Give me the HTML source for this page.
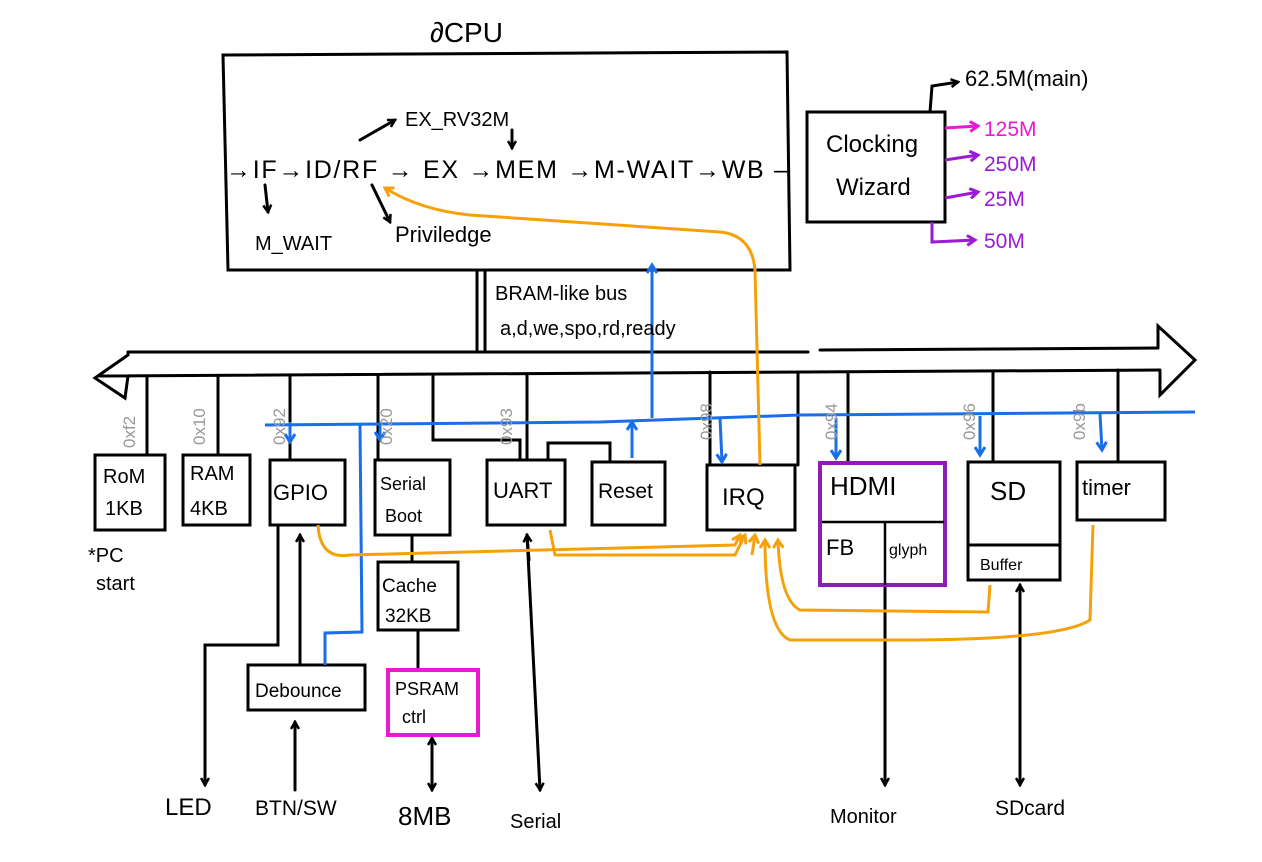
<!DOCTYPE html>
<html><head><meta charset="utf-8"><style>
html,body{margin:0;padding:0;background:#fff;}
svg{display:block;}
text{font-family:"Liberation Sans",sans-serif;fill:#000;}
</style></head><body>
<svg width="1262" height="862" viewBox="0 0 1262 862" xmlns="http://www.w3.org/2000/svg">
<defs>
<marker id="a" markerWidth="10" markerHeight="10" refX="8" refY="5" orient="auto" markerUnits="userSpaceOnUse"><path d="M1,1 L8,5 L1,9" fill="none" stroke="#000" stroke-width="2.5"/></marker>
<marker id="ab" markerWidth="12" markerHeight="12" refX="9" refY="6" orient="auto" markerUnits="userSpaceOnUse"><path d="M1,1 L9,6 L1,11" fill="none" stroke="#1a6fe8" stroke-width="3"/></marker>
<marker id="ao" markerWidth="12" markerHeight="12" refX="9" refY="6" orient="auto" markerUnits="userSpaceOnUse"><path d="M1,1 L9,6 L1,11" fill="none" stroke="#f5a10a" stroke-width="3"/></marker>
<marker id="am" markerWidth="12" markerHeight="12" refX="9" refY="6" orient="auto" markerUnits="userSpaceOnUse"><path d="M1,1 L9,6 L1,11" fill="none" stroke="#e91ad0" stroke-width="3"/></marker>
<marker id="ap" markerWidth="12" markerHeight="12" refX="9" refY="6" orient="auto" markerUnits="userSpaceOnUse"><path d="M1,1 L9,6 L1,11" fill="none" stroke="#9b1ad6" stroke-width="3"/></marker>
</defs>
<g fill="none" stroke="#000" stroke-width="3" stroke-linecap="round">
<path d="M223,55 L787,52 L790,270 L228,270 Z"/>
<rect x="807" y="112" width="138" height="110"/>
<path d="M930,112 L932,86 L958,82" marker-end="url(#a)"/>
<path d="M477,272 L477,350 M485,272 L485,350"/>
<path d="M100,376 L1160,370 M128,352 L808,352 M820,350 L1158,348"/>
<path d="M1158,348 L1158,326 L1195,360 L1160,395 L1160,372"/>
<path d="M128,352 L128,355 L95,378 L125,398 L128,376"/>
<path d="M147,376 L147,455 M218,376 L218,455 M290,375 L290,460 M378,375 L378,460 M433,375 L433,440 L520,440 L520,460 M527,375 L527,460 M548,460 L548,443 L610,443 L610,462 M710,372 L710,465 M798,372 L798,465 M848,372 L848,463 M993,372 L993,462 M1118,370 L1118,462"/>
<rect x="95" y="455" width="70" height="75"/>
<rect x="183" y="455" width="67" height="70"/>
<rect x="270" y="460" width="75" height="65"/>
<rect x="375" y="460" width="75" height="75"/>
<rect x="487" y="460" width="78" height="65"/>
<rect x="592" y="462" width="73" height="63"/>
<rect x="707" y="465" width="88" height="65"/>
<rect x="968" y="462" width="92" height="118"/>
<path d="M968,545 L1060,545"/>
<rect x="1077" y="462" width="88" height="58"/>
<rect x="378" y="562" width="80" height="68"/>
<rect x="248" y="665" width="117" height="45"/>
<path d="M412,535 L412,562 M418,630 L418,670"/>
<path d="M278,525 L278,645 L205,645 L205,785" marker-end="url(#a)"/>
<path d="M300,665 L300,535" marker-end="url(#a)"/>
<path d="M295,790 L295,722" marker-end="url(#a)"/>
<path d="M432,740 L432,790" marker-end="url(#a)"/><path d="M432,745 L432,738" marker-end="url(#a)"/>
<path d="M527,535 L540,790" marker-end="url(#a)"/><path d="M529,560 L527,535" marker-end="url(#a)"/>
<path d="M885,585 L885,785" marker-end="url(#a)"/>
<path d="M1020,780 L1020,585" marker-end="url(#a)"/><path d="M1020,590 L1020,785" marker-end="url(#a)"/>
<path d="M360,140 L395,120" marker-end="url(#a)"/>
<path d="M512,130 L512,148" marker-end="url(#a)"/>
<path d="M265,185 L268,212" marker-end="url(#a)"/>
<path d="M372,185 L390,222" marker-end="url(#a)"/>
</g>
<g fill="none" stroke="#8e1ab8" stroke-width="4"><rect x="820" y="463" width="125" height="122"/></g>
<g fill="none" stroke="#000" stroke-width="2.5"><path d="M822,522 L944,522 M885,522 L885,585"/></g>
<rect x="388" y="670" width="90" height="65" fill="none" stroke="#e91ad0" stroke-width="4"/>
<g fill="none" stroke-width="3">
<path d="M945,128 L978,126" stroke="#e91ad0" marker-end="url(#am)"/>
<path d="M945,160 L978,155" stroke="#9b1ad6" marker-end="url(#ap)"/>
<path d="M945,198 L978,192" stroke="#9b1ad6" marker-end="url(#ap)"/>
<path d="M932,222 L932,242 L975,240" stroke="#9b1ad6" marker-end="url(#ap)"/>
</g>
<g fill="none" stroke="#1a6fe8" stroke-width="3">
<path d="M265,425 L600,422 L800,415 L1195,412"/>
<path d="M652,418 L652,265" marker-end="url(#ab)"/>
<path d="M290,422 L290,442" marker-end="url(#ab)"/>
<path d="M380,422 L380,440" marker-end="url(#ab)"/>
<path d="M360,425 L362,632 L325,633 L325,665"/>
<path d="M632,458 L632,422" marker-end="url(#ab)"/>
<path d="M720,418 L722,462" marker-end="url(#ab)"/>
<path d="M836,418 L836,458" marker-end="url(#ab)"/>
<path d="M980,416 L980,455" marker-end="url(#ab)"/>
<path d="M1100,414 L1102,450" marker-end="url(#ab)"/>
</g>
<g fill="none" stroke="#f5a10a" stroke-width="3">
<path d="M760,465 L755,270 Q752,235 720,232 L470,215 Q420,210 385,188" marker-end="url(#ao)"/>
<path d="M318,525 Q320,560 350,555 L735,545 L740,535" marker-end="url(#ao)"/>
<path d="M550,530 L555,555 L735,555 L745,535" marker-end="url(#ao)"/>
<path d="M1093,525 L1090,620 Q1060,640 900,640 L790,640 Q765,630 765,540" marker-end="url(#ao)"/>
<path d="M990,585 L988,612 L800,610 Q780,600 778,540" marker-end="url(#ao)"/>
<path d="M752,555 L755,535" marker-end="url(#ao)"/>
</g>
<text x="430" y="42" font-size="28">∂CPU</text>
<text x="226" y="178" font-size="25" textLength="562" lengthAdjust="spacing">→IF→ID/RF → EX →MEM →M-WAIT→WB –</text>
<text x="405" y="126" font-size="20">EX_RV32M</text>
<text x="255" y="250" font-size="20">M_WAIT</text>
<text x="395" y="242" font-size="22">Priviledge</text>
<text x="826" y="152" font-size="24">Clocking</text>
<text x="836" y="195" font-size="24">Wizard</text>
<text x="965" y="86" font-size="22">62.5M(main)</text>
<text x="984" y="136" font-size="21" style="fill:#e91ad0">125M</text>
<text x="984" y="171" font-size="21" style="fill:#9b1ad6">250M</text>
<text x="984" y="206" font-size="21" style="fill:#9b1ad6">25M</text>
<text x="984" y="248" font-size="21" style="fill:#9b1ad6">50M</text>
<text x="495" y="300" font-size="20">BRAM-like bus</text>
<text x="500" y="335" font-size="20">a,d,we,spo,rd,ready</text>
<g font-size="17">
<text transform="translate(135,448) rotate(-90)" style="fill:#999">0xf2</text>
<text transform="translate(205,445) rotate(-90)" style="fill:#999">0x10</text>
<text transform="translate(285,445) rotate(-90)" style="fill:#999">0x92</text>
<text transform="translate(392,445) rotate(-90)" style="fill:#999">0x20</text>
<text transform="translate(512,445) rotate(-90)" style="fill:#999">0x93</text>
<text transform="translate(712,440) rotate(-90)" style="fill:#999">0x98</text>
<text transform="translate(837,440) rotate(-90)" style="fill:#999">0x94</text>
<text transform="translate(975,440) rotate(-90)" style="fill:#999">0x96</text>
<text transform="translate(1085,440) rotate(-90)" style="fill:#999">0x9b</text>
</g>
<text x="103" y="483" font-size="20">RoM</text><text x="105" y="515" font-size="20">1KB</text>
<text x="190" y="480" font-size="20">RAM</text><text x="190" y="515" font-size="20">4KB</text>
<text x="273" y="500" font-size="22">GPIO</text>
<text x="380" y="490" font-size="18">Serial</text><text x="385" y="522" font-size="18">Boot</text>
<text x="493" y="498" font-size="22">UART</text>
<text x="598" y="498" font-size="21">Reset</text>
<text x="722" y="505" font-size="24">IRQ</text>
<text x="830" y="495" font-size="26">HDMI</text>
<text x="826" y="555" font-size="22">FB</text>
<text x="889" y="555" font-size="16">glyph</text>
<text x="990" y="500" font-size="26">SD</text>
<text x="980" y="570" font-size="16">Buffer</text>
<text x="1082" y="495" font-size="22">timer</text>
<text x="382" y="592" font-size="19">Cache</text><text x="385" y="622" font-size="19">32KB</text>
<text x="395" y="695" font-size="18">PSRAM</text><text x="402" y="723" font-size="18">ctrl</text>
<text x="255" y="697" font-size="19">Debounce</text>
<text x="88" y="562" font-size="20">*PC</text><text x="96" y="590" font-size="20">start</text>
<text x="165" y="815" font-size="24">LED</text>
<text x="255" y="815" font-size="21">BTN/SW</text>
<text x="398" y="825" font-size="26">8MB</text>
<text x="510" y="828" font-size="20">Serial</text>
<text x="830" y="823" font-size="20">Monitor</text>
<text x="995" y="815" font-size="21">SDcard</text>
</svg>
</body></html>
